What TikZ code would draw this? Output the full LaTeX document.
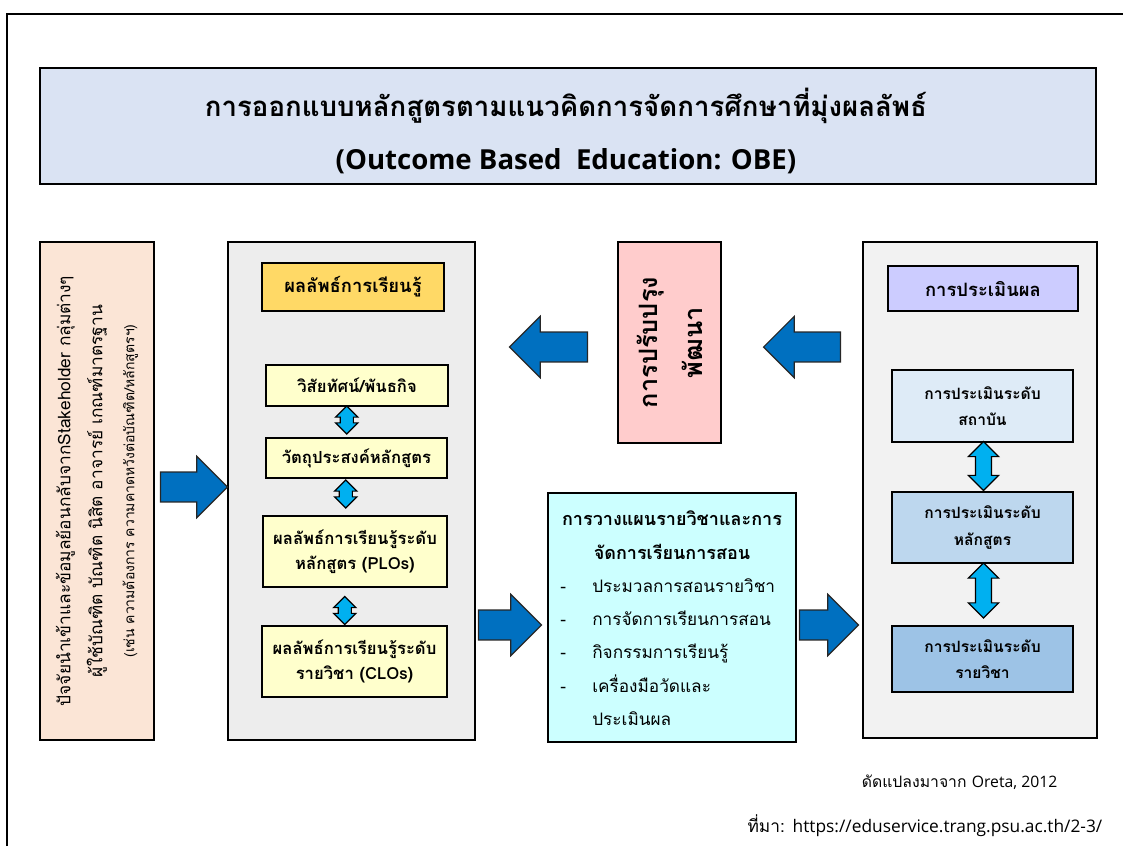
\documentclass[tikz,border=0pt]{standalone}
\usepackage{fontspec}
\setmainfont[Script=Thai]{Loma}
\newfontfamily\latinfont{Open Sans}
\usetikzlibrary{shapes.arrows,calc}

\definecolor{titleblue}{HTML}{DAE3F3}
\definecolor{peach}{HTML}{FBE5D6}
\definecolor{panelgray}{HTML}{EDEDED}
\definecolor{panellight}{HTML}{F2F2F2}
\definecolor{gold}{HTML}{FFD966}
\definecolor{cream}{HTML}{FFFFCC}
\definecolor{rose}{HTML}{FFCCCC}
\definecolor{aqua}{HTML}{CCFFFF}
\definecolor{lavender}{HTML}{CCCCFF}
\definecolor{blueA}{HTML}{DEEBF7}
\definecolor{blueB}{HTML}{BDD7EE}
\definecolor{blueC}{HTML}{9DC3E6}
\definecolor{arrowblue}{HTML}{0070C0}
\definecolor{arrowcyan}{HTML}{00B0F0}

\tikzset{
  box/.style={draw=black, line width=1.1pt, inner sep=0pt, align=center},
  smallbox/.style={box, font=\bfseries\fontsize{12.5}{19}\selectfont},
  evalbox/.style={box, font=\bfseries\fontsize{11.7}{20}\selectfont},
  headbox/.style={box, font=\bfseries\fontsize{13.8}{20}\selectfont},
  blockarrow/.style={single arrow, draw=black!85, line width=0.9pt, fill=arrowblue,
    inner xsep=0pt, inner ysep=10.75pt, single arrow head extend=11.75pt},
  linkarrow/.style={double arrow, draw=black, line width=0.9pt, fill=arrowcyan,
    inner xsep=0pt, rotate=90},
  linksmall/.style={linkarrow, inner ysep=4.5pt, double arrow head extend=3.4pt, minimum height=21pt},
  linkbig/.style={linkarrow, inner ysep=5.6pt, double arrow head extend=5.3pt}
}

\begin{document}
\begin{tikzpicture}[x=0.75pt,y=-0.75pt]
  \useasboundingbox (0,0) rectangle (1123,846);
  \draw[line width=1pt] (7,846) -- (7,14) -- (1123,14);

  % title
  \node[box, fill=titleblue, minimum width=792pt, minimum height=87pt] (title) at (568,126) {};
  \node[align=center, font=\bfseries\fontsize{20.7}{39.75}\selectfont] (titletext) at (566,131)
    {การออกแบบหลักสูตรตามแนวคิดการจัดการศึกษาที่มุ่งผลลัพธ์\\{\latinfont (Outcome Based\ \ Education: OBE)}};

  % input
  \node[box, fill=peach, minimum width=85.5pt, minimum height=373.5pt] (input) at (97,491) {};
  \node[rotate=90, align=center, font=\fontsize{13}{24}\selectfont] (inputtext) at (input.center)
    {ปัจจัยนำเข้าและข้อมูลย้อนกลับจากStakeholder กลุ่มต่างๆ\\
     ผู้ใช้บัณฑิต บัณฑิต นิสิต อาจารย์ เกณฑ์มาตรฐาน\\
     {\fontsize{10.5}{24}\selectfont (เช่น ความต้องการ ความคาดหวังต่อบัณฑิต/หลักสูตรฯ)}};

  % learning outcomes
  \node[box, fill=panelgray, minimum width=185.25pt, minimum height=373.5pt] (learn) at (351.5,491) {};
  \node[headbox, fill=gold, minimum width=136.5pt, minimum height=36pt] (outcome) at (353,287) {ผลลัพธ์การเรียนรู้};
  \node[smallbox, fill=cream, minimum width=136.5pt, minimum height=30.75pt] (vision) at (357,385.5) {วิสัยทัศน์/พันธกิจ};
  \node[smallbox, fill=cream, minimum width=135.75pt, minimum height=30pt] (objective) at (356.5,458) {วัตถุประสงค์หลักสูตร};
  \node[smallbox, fill=cream, minimum width=138pt, minimum height=53.25pt] (plo) at (355,551.5) {ผลลัพธ์การเรียนรู้ระดับ\\หลักสูตร (PLOs)};
  \node[smallbox, fill=cream, minimum width=138.75pt, minimum height=53.25pt] (clo) at (354.5,661.5) {ผลลัพธ์การเรียนรู้ระดับ\\รายวิชา (CLOs)};

  % improvement
  \node[box, fill=rose, minimum width=77.25pt, minimum height=150.75pt] (improve) at (669.5,342.5) {};
  \node[rotate=90, align=center, font=\bfseries\fontsize{19}{34}\selectfont] (improvetext) at (improve.center)
    {การปรับปรุง\\พัฒนา};

  % planning
  \node[box, fill=aqua, minimum width=186pt, minimum height=186.75pt] (plan) at (672,617.5) {};
  \node[align=center, font=\bfseries\fontsize{13.5}{25}\selectfont] (planhead) at (672,535)
    {การวางแผนรายวิชาและการ\\จัดการเรียนการสอน};
  \node[align=left, anchor=north west, font=\fontsize{12.9}{25}\selectfont, inner sep=0pt] (planlist) at (560,578)
    {\makebox[24pt][l]{-}ประมวลการสอนรายวิชา\\
     \makebox[24pt][l]{-}การจัดการเรียนการสอน\\
     \makebox[24pt][l]{-}กิจกรรมการเรียนรู้\\
     \makebox[24pt][l]{-}เครื่องมือวัดและ\\
     \makebox[24pt][l]{}ประเมินผล};

  % evaluation
  \node[box, fill=panellight, minimum width=175.5pt, minimum height=372pt] (eval) at (980,490) {};
  \node[headbox, fill=lavender, minimum width=142.5pt, minimum height=33.75pt] (evalhead) at (983,288.5) {การประเมินผล};
  \node[evalbox, fill=blueA, minimum width=135.75pt, minimum height=54pt] (inst) at (982.5,406) {การประเมินระดับ\\สถาบัน};
  \node[evalbox, fill=blueB, minimum width=135.75pt, minimum height=53.25pt] (prog) at (982.5,527.5) {การประเมินระดับ\\หลักสูตร};
  \node[evalbox, fill=blueC, minimum width=135.75pt, minimum height=49.5pt] (course) at (982.5,659) {การประเมินระดับ\\รายวิชา};

  % block arrows
  \node[blockarrow, anchor=tip, minimum height=50.25pt] (a1) at ($(learn.west)+(1,-4)$) {};
  \node[blockarrow, anchor=tip, minimum height=47.25pt] (a2) at ($(plan.west)+(-5,7.5)$) {};
  \node[blockarrow, anchor=tip, minimum height=44.25pt] (a3) at ($(eval.west |- a2.tip)+(-3,0)$) {};
  \node[blockarrow, anchor=tip, rotate=180, minimum height=58.5pt] (a4) at ($(learn.east |- improve.west)+(33,4.5)$) {};
  \node[blockarrow, anchor=tip, rotate=180, minimum height=57.75pt] (a5) at ($(improve.east)+(41,4.5)$) {};

  % links
  \node[linksmall] (l1) at ($(vision.south)!0.5!(objective.north)+(-10,-2)$) {};
  \node[linksmall] (l2) at ($(objective.south)!0.5!(plo.north)+(-10,-3)$) {};
  \node[linksmall] (l3) at ($(plo.south)!0.5!(clo.north)+(-10,4)$) {};
  \node[linkbig, minimum height=36.75pt] (l4) at ($(inst.south)!0.5!(prog.north)+(1,-1)$) {};
  \node[linkbig, minimum height=41.25pt] (l5) at ($(prog.south)!0.5!(course.north)+(1,-4)$) {};

  % source
  \node[anchor=east, font=\fontsize{11.8}{12}\selectfont] (adapted) at (1062,782) {ดัดแปลงมาจาก {\latinfont Oreta, 2012}};
  \node[anchor=east, font=\fontsize{13}{12}\selectfont] (source) at (1107,826) {ที่มา: {\latinfont https://eduservice.trang.psu.ac.th/2-3/}};
\end{tikzpicture}
\end{document}
